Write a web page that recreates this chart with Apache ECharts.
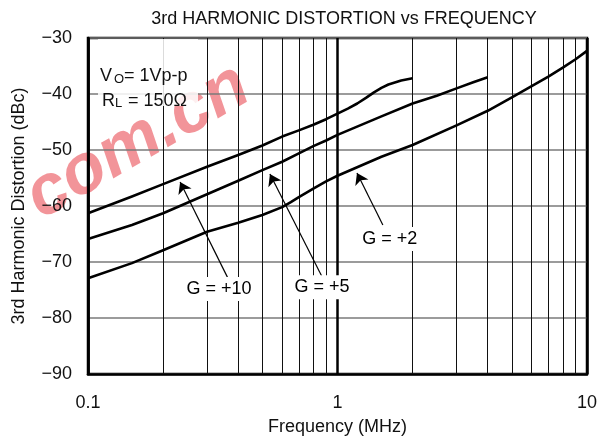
<!DOCTYPE html>
<html><head><meta charset="utf-8">
<script src="https://cdn.jsdelivr.net/npm/echarts@6/dist/echarts.min.js"></script>
<style>html,body{margin:0;padding:0;background:#fff;}#c{width:610px;height:447px;}</style>
</head><body><div id="c"></div>
<script>
// ---- data ----
const freqG10 = [0.1, 0.15, 0.2, 0.3, 0.4, 0.5, 0.6, 0.7, 0.8, 0.9, 1.0, 1.1, 1.2, 1.3, 1.4, 1.5, 1.6, 1.8, 2.0];
const distG10 = [-61.3, -58.3, -56.1, -53.0, -50.9, -49.2, -47.6, -46.5, -45.5, -44.5, -43.5, -42.6, -41.7, -40.7, -39.7, -38.9, -38.3, -37.6, -37.2];
const freqG5 = [0.1, 0.15, 0.2, 0.3, 0.4, 0.5, 0.6, 0.7, 0.8, 0.9, 1.0, 1.5, 2.0, 2.5, 3.0, 3.5, 4.0];
const distG5 = [-65.9, -63.4, -61.3, -57.9, -55.5, -53.6, -52.1, -50.6, -49.3, -48.3, -47.3, -44.0, -41.7, -40.3, -39.0, -37.9, -37.0];
const freqG2 = [0.1, 0.15, 0.2, 0.3, 0.4, 0.5, 0.6, 0.65, 0.7, 0.8, 0.9, 1.0, 1.5, 2.0, 3.0, 4.0, 5.0, 6.0, 7.0, 8.0, 9.0, 10.0];
const distG2 = [-72.9, -70.2, -67.9, -64.6, -63.0, -61.6, -60.2, -59.3, -58.4, -56.9, -55.6, -54.6, -51.2, -49.1, -45.6, -43.0, -40.6, -38.6, -36.9, -35.3, -33.8, -32.3];
const minorFreqs = [0.2, 0.3, 0.4, 0.5, 0.6, 0.7, 0.8, 0.9, 2, 3, 4, 5, 6, 7, 8, 9];
const yTicks = [-90, -80, -70, -60, -50, -40, -30];
const curveLabels = ['G = +10', 'G = +5', 'G = +2'];
// annotation anchors [freq, dB]
const arrowTails = [[0.362, -72.7], [0.864, -72.5], [1.52, -63.4]];
const arrowTips  = [[0.234, -55.7], [0.536, -54.3], [1.197, -54.1]];
const labelPos   = [[0.335, -74.8], [0.867, -74.5], [1.62, -65.9]];

const FONT = '"Liberation Sans", Arial, sans-serif';
const chart = echarts.init(document.getElementById('c'), null, {renderer: 'canvas'});

function pair(f, d) { return f.map((x, i) => [x, d[i]]); }

const curveData = [pair(freqG10, distG10), pair(freqG5, distG5), pair(freqG2, distG2)];

const series = [{
  type: 'line', data: [], z: 1, silent: true,
  markLine: {
    silent: true, symbol: ['none', 'none'], animation: false,
    label: {show: false},
    lineStyle: {color: '#111', width: 1, type: 'solid'},
    data: minorFreqs.map(f => ({xAxis: f}))
  }
}];
curveData.forEach((d, i) => {
  series.push({
    type: 'line', data: d, z: 5, smooth: false, symbol: 'none', silent: true,
    lineStyle: {color: '#000', width: 2.6, join: 'round'},
    markLine: {
      silent: true, animation: false, symbol: ['none', 'arrow'], symbolSize: 11,
      label: {show: false},
      lineStyle: {color: '#000', width: 1.2, type: 'solid'},
      data: [[{coord: arrowTails[i]}, {coord: arrowTips[i]}]]
    },
    markPoint: {
      silent: true, animation: false, symbol: 'rect', symbolSize: [74, 24],
      itemStyle: {color: '#fff'},
      label: {show: true, position: 'inside', color: '#000', fontSize: 18, fontFamily: FONT, formatter: curveLabels[i]},
      data: [{coord: labelPos[i]}]
    }
  });
});

chart.setOption({
  animation: false,
  backgroundColor: '#fff',
  title: {
    text: '3rd HARMONIC DISTORTION vs FREQUENCY', left: 339, top: 5, textAlign: 'center',
    textStyle: {fontSize: 18, fontWeight: 'normal', color: '#111', fontFamily: FONT}
  },
  grid: {left: 88, right: 23, top: 38, bottom: 73, show: true, borderColor: '#000', borderWidth: 2.5, backgroundColor: 'transparent'},
  xAxis: {
    type: 'log', logBase: 10, min: 0.1, max: 10,
    name: 'Frequency (MHz)', nameLocation: 'middle', nameGap: 44,
    nameTextStyle: {fontSize: 18, color: '#111', fontFamily: FONT},
    axisLine: {show: true, lineStyle: {color: '#000', width: 2.5}},
    axisTick: {show: false},
    axisLabel: {fontSize: 18, color: '#111', margin: 20, fontFamily: FONT, formatter: v => String(+v.toPrecision(3))},
    splitLine: {show: true, lineStyle: {color: '#000', width: 2.5}}
  },
  yAxis: {
    type: 'value', min: -90, max: -30, interval: 10,
    name: '3rd Harmonic Distortion (dBc)', nameLocation: 'middle', nameGap: 60, nameRotate: 90,
    nameTextStyle: {fontSize: 18, color: '#111', fontFamily: FONT},
    axisLine: {show: true, lineStyle: {color: '#000', width: 2.5}},
    axisTick: {show: false},
    axisLabel: {fontSize: 18, color: '#111', margin: 16, fontFamily: FONT,
      formatter: v => yTicks.includes(v) ? String(v).replace('-', '\u2212') : ''},
    splitLine: {show: true, lineStyle: {color: '#7a7a7a', width: 1.6}}
  },
  graphic: [
    {type: 'text', z: 0, silent: true, x: 138, y: 142, rotation: 0.52,
      style: {text: 'com.cn', font: 'italic bold 70px "Liberation Sans", Arial, sans-serif', fill: 'rgba(232,60,70,0.55)', align: 'center', verticalAlign: 'middle'}},
    {type: 'rect', z: 50, silent: true, shape: {x: 98, y: 39, width: 100, height: 67}, style: {fill: 'rgba(255,255,255,0.85)'}},
    {type: 'text', z: 51, silent: true, x: 100, y: 67, style: {text: 'V', font: '18px ' + FONT, fill: '#111', verticalAlign: 'alphabetic'}},
    {type: 'text', z: 51, silent: true, x: 114, y: 73, style: {text: 'O', font: '13px ' + FONT, fill: '#111', verticalAlign: 'alphabetic'}},
    {type: 'text', z: 51, silent: true, x: 124, y: 67, style: {text: '= 1Vp-p', font: '18px ' + FONT, fill: '#111', verticalAlign: 'alphabetic'}},
    {type: 'text', z: 51, silent: true, x: 102, y: 92, style: {text: 'R', font: '18px ' + FONT, fill: '#111', verticalAlign: 'alphabetic'}},
    {type: 'text', z: 51, silent: true, x: 115, y: 97, style: {text: 'L', font: '13px ' + FONT, fill: '#111', verticalAlign: 'alphabetic'}},
    {type: 'text', z: 51, silent: true, x: 128, y: 92, style: {text: '= 150\u03A9', font: '18px ' + FONT, fill: '#111', verticalAlign: 'alphabetic'}}
  ],
  series: series
});
</script>
</body></html>
